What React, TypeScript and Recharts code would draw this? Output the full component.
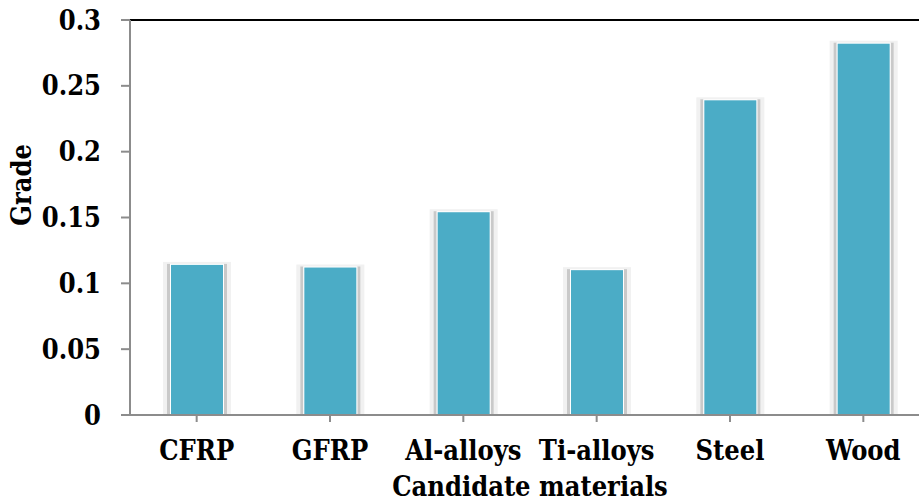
import { BarChart, Bar, XAxis, YAxis, ReferenceLine } from "recharts";

const materials = ["CFRP", "GFRP", "Al-alloys", "Ti-alloys", "Steel", "Wood"];
const grades = [0.114, 0.112, 0.154, 0.11, 0.239, 0.282];
const gradeTicks = [0, 0.05, 0.1, 0.15, 0.2, 0.25, 0.3];

const data = materials.map((name, i) => ({ name, grade: grades[i] }));

const font = "'DejaVu Serif Condensed', 'DejaVu Serif', serif";
const textStyle = { fontFamily: font, fontWeight: 700, fontStretch: "condensed", fill: "#000" };

// Excel-style column: soft grey glow, white rim, aqua fill
const ShadowBar = (props: any) => {
  const { x, y, width, height } = props;
  if (!height || height <= 0) return null;
  return (
    <g>
      <rect x={x - 8} y={y - 3} width={width + 16} height={height + 3} fill="#f1f1f1" />
      <rect x={x - 4} y={y - 1} width={3} height={height + 1} fill="#c9c9c9" />
      <rect x={x + width + 1} y={y - 1} width={3} height={height + 1} fill="#c9c9c9" />
      <rect x={x - 1} y={y - 1} width={width + 2} height={height + 1} fill="#ffffff" />
      <rect x={x} y={y} width={width} height={height} fill="#4BACC6" />
    </g>
  );
};

export default function App() {
  return (
    <div style={{ position: "absolute", left: 0, top: 0, width: 919, height: 501, overflow: "hidden", background: "#fff" }}>
      <BarChart
        width={940}
        height={501}
        data={data}
        margin={{ top: 20, right: 10, left: 0, bottom: 0 }}
      >
        <XAxis
          dataKey="name"
          height={86}
          axisLine={{ stroke: "#8c8c8c", strokeWidth: 2 }}
          tickLine={{ stroke: "#8c8c8c", strokeWidth: 2 }}
          tickSize={7}
          tickMargin={19}
          tick={{ ...textStyle, fontSize: 27 }}
          interval={0}
        />
        <YAxis
          width={130}
          domain={[0, 0.3]}
          ticks={gradeTicks}
          axisLine={{ stroke: "#8c8c8c", strokeWidth: 2 }}
          tickLine={{ stroke: "#8c8c8c", strokeWidth: 2 }}
          tickSize={9}
          tickMargin={20}
          tickFormatter={(v: number) => String(v)}
          tick={{ ...textStyle, fontSize: 27 }}
        />
        <ReferenceLine y={0.3} stroke="#000" strokeWidth={2} ifOverflow="visible" />
        <Bar dataKey="grade" barSize={52} shape={ShadowBar} isAnimationActive={false} />
        <text x={530} y={496} textAnchor="middle" style={{ ...textStyle, fontSize: 27 }}>
          Candidate materials
        </text>
        <text
          x={0}
          y={0}
          transform="translate(31 185) rotate(-90)"
          textAnchor="middle"
          style={{ ...textStyle, fontSize: 27 }}
        >
          Grade
        </text>
      </BarChart>
    </div>
  );
}
